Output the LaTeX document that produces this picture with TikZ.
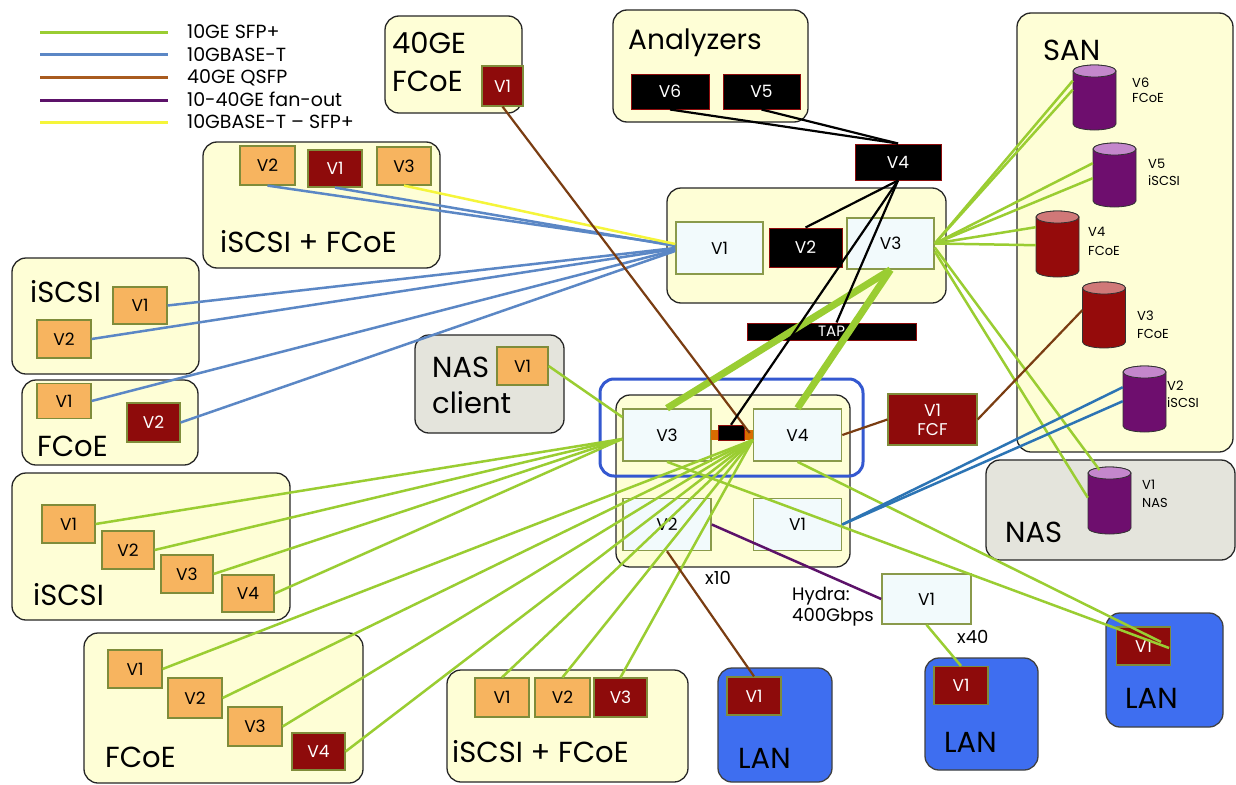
\documentclass[tikz,border=0pt]{standalone}
\usepackage{fontspec}
\setmainfont{Poppins}
\usetikzlibrary{calc}
\definecolor{cream}{HTML}{FEFED6}
\definecolor{greyf}{HTML}{E4E4DC}
\definecolor{lanblue}{HTML}{3E6EF0}
\definecolor{orangef}{HTML}{F7B45F}
\definecolor{darkred}{HTML}{8E0B0B}
\definecolor{boxolive}{HTML}{7F8C3A}
\definecolor{ltfill}{HTML}{F2FAFC}
\definecolor{ltedge}{HTML}{8A9A4B}
\definecolor{grn}{HTML}{9ACD32}
\definecolor{blu}{HTML}{5B87C5}
\definecolor{blutwo}{HTML}{2C74B4}
\definecolor{brn}{HTML}{7A3D12}
\definecolor{brnleg}{HTML}{A95B1F}
\definecolor{pur}{HTML}{5C1269}
\definecolor{yel}{HTML}{F5F53A}
\definecolor{cylpur}{HTML}{6E0E6E}
\definecolor{cylpurtop}{HTML}{C487CC}
\definecolor{cylred}{HTML}{950B0B}
\definecolor{cylredtop}{HTML}{D07878}
\definecolor{bluering}{HTML}{3458D0}
\newcommand\bigf{\fontsize{29}{31}\selectfont}
\newcommand\vf{\fontsize{17}{19}\selectfont}
\newcommand\smf{\fontsize{13}{15}\selectfont}
\newcommand\legf{\fontsize{19}{21}\selectfont}
\newcommand\midf{\fontsize{18}{20}\selectfont}
% name, cx, ytop, ybot, rx, body, top
\newcommand\mycyl[7]{%
  \path[draw=black!80, fill=#6, line width=0.8pt] (#2-#5,#3+6) -- (#2-#5,#4-6) arc (180:0:#5 and 6) -- (#2+#5,#3+6) arc (0:-180:#5 and 6) -- cycle;
  \path[draw=black!80, fill=#7, line width=0.8pt] (#2,#3+6) ellipse (#5 and 6);
  \node[inner sep=0, minimum width=2*#5, minimum height=#4-#3, anchor=north] (#1) at (#2,#3) {};
}
\begin{document}
\begin{tikzpicture}[x=1pt,y=-1pt,
  grp/.style={draw=black!85, line width=1.3pt, fill=cream, rounded corners=14pt, inner sep=0},
  greygrp/.style={grp, fill=greyf},
  langrp/.style={grp, fill=lanblue, draw=black!75},
  ring/.style={draw=bluering, line width=3pt, rounded corners=14pt, inner sep=0},
  orbox/.style={draw=boxolive, line width=1.2pt, fill=orangef, font=\vf, inner sep=0, minimum width=54, minimum height=38},
  redbox/.style={orbox, fill=darkred, text=white},
  blkbox/.style={draw=darkred, line width=1pt, fill=black, text=white, font=\vf, inner sep=0},
  ltbox/.style={draw=ltedge, line width=1.6pt, fill=ltfill, font=\vf, inner sep=0, minimum width=88, minimum height=52},
  big/.style={font=\bigf, inner sep=0, anchor=base west},
  lbl/.style={font=\smf, inner sep=0, anchor=base west},
  legtxt/.style={font=\legf, inner sep=0, anchor=base west},
  mid/.style={font=\midf, inner sep=0, anchor=base west},
  leg/.style={line width=3pt},
  g/.style={grn, line width=2.5pt},
  gthick/.style={grn, line width=7pt},
  bl/.style={blu, line width=2.5pt},
  bltwo/.style={blutwo, line width=2.5pt},
  br/.style={brn, line width=2.2pt},
  pu/.style={pur, line width=2.5pt},
  ye/.style={yel, line width=2.5pt},
  bk/.style={black, line width=2.2pt}
]
\useasboundingbox (0,0) rectangle (1236,784);
\fill[white] (0,0) rectangle (1236,784);

% ---------- legend ----------
\coordinate (la1) at (40,33);  \coordinate (lb1) at (168,33);
\coordinate (la2) at (40,55);  \coordinate (lb2) at (168,55);
\coordinate (la3) at (40,77);  \coordinate (lb3) at (168,77);
\coordinate (la4) at (40,100); \coordinate (lb4) at (168,100);
\coordinate (la5) at (40,122); \coordinate (lb5) at (168,122);
\draw[leg, grn] (la1) -- (lb1);
\draw[leg, blu] (la2) -- (lb2);
\draw[leg, brnleg] (la3) -- (lb3);
\draw[leg, pur] (la4) -- (lb4);
\draw[leg, yel] (la5) -- (lb5);
\node[legtxt] (t1) at (187,39) {10GE SFP+};
\node[legtxt] (t2) at (187,61) {10GBASE-T};
\node[legtxt] (t3) at (187,83) {40GE QSFP};
\node[legtxt] (t4) at (187,106) {10-40GE fan-out};
\node[legtxt] (t5) at (187,128) {10GBASE-T – SFP+};

% ---------- containers ----------
\node[grp, minimum width=137, minimum height=97] (g40) at (453.5,64.5) {};
\node[grp, minimum width=195, minimum height=112] (gAn) at (710.5,66) {};
\node[grp, minimum width=279, minimum height=115] (gTop) at (806.5,245.5) {};
\node[grp, minimum width=234, minimum height=172] (gLow) at (733,481) {};
\node[grp, minimum width=216, minimum height=439] (gSAN) at (1125,232.5) {};
\node[greygrp, minimum width=249, minimum height=100] (gNAS) at (1110.5,510) {};
\node[grp, minimum width=237, minimum height=126] (gISFa) at (321.5,205) {};
\node[grp, minimum width=187, minimum height=116] (gISa) at (105.5,316) {};
\node[grp, minimum width=176, minimum height=85] (gFCa) at (110,422.5) {};
\node[grp, minimum width=278, minimum height=147] (gISb) at (151,546.5) {};
\node[grp, minimum width=279, minimum height=150] (gFCb) at (223.5,708) {};
\node[grp, minimum width=241, minimum height=112] (gISFb) at (567.5,726) {};
\node[greygrp, minimum width=149, minimum height=98] (gNC) at (489.5,384) {};
\node[langrp, minimum width=114, minimum height=114] (gLANa) at (775,725) {};
\node[langrp, minimum width=113, minimum height=112] (gLANb) at (981.5,714) {};
\node[langrp, minimum width=117, minimum height=114] (gLANc) at (1164.5,670) {};

% ---------- container titles ----------
\node[big] (x40t) at (392,53) {40GE};
\node[big] (x40u) at (392,92) {FCoE};
\node[big, font=\fontsize{28}{30}\selectfont] (anT) at (628,49) {Analyzers};
\node[big] (sanT) at (1043,60) {SAN};
\node[big] (nasT) at (1005,542) {NAS};
\node[big] (ncT) at (432,377) {NAS};
\node[big] (ncU) at (432,413) {client};
\node[big] (isaT) at (30,302) {iSCSI};
\node[big] (fcaT) at (37,456) {FCoE};
\node[big] (isbT) at (33,605) {iSCSI};
\node[big] (fcbT) at (105,767) {FCoE};
\node[big] (isfaT) at (220,252) {iSCSI + FCoE};
\node[big] (isfbT) at (452,762) {iSCSI + FCoE};
\node[big] (lanaT) at (738,768) {LAN};
\node[big] (lanbT) at (944,752) {LAN};
\node[big] (lancT) at (1125,708) {LAN};

% ---------- inner boxes ----------
\node[redbox, minimum width=41, minimum height=40] (fV1) at (502.5,86) {V1};
\node[blkbox, minimum width=78, minimum height=35] (aV6) at (670,91.5) {V6};
\node[blkbox, minimum width=77, minimum height=35] (aV5) at (761.5,91.5) {V5};
\node[blkbox, minimum width=86, minimum height=36] (aV4) at (898,162) {V4};
\node[ltbox, minimum width=87, minimum height=52] (tV1) at (719.5,248) {V1};
\node[blkbox, minimum width=73, minimum height=39] (tV2) at (805.5,247.5) {V2};
\node[ltbox, minimum width=87, minimum height=51] (tV3) at (890.5,243.5) {V3};
\node[blkbox, minimum width=169, minimum height=17, font=\fontsize{15}{16}\selectfont] (tap) at (831.5,331.5) {TAP};
\node[ring, minimum width=263, minimum height=97] (ring) at (731.5,427.5) {};
\node[ltbox] (lV3) at (667,435) {V3};
\node[ltbox] (lV4) at (797.5,435) {V4};
\node[ltbox] (lV2) at (667,524.5) {V2};
\node[ltbox] (lV1) at (797.5,524.5) {V1};
\node[fill=orange!85!black, minimum width=42, minimum height=10, inner sep=0] (obar) at (732,434.5) {};
\node[fill=black, draw=darkred, minimum width=26, minimum height=15, inner sep=0] (jbox) at (731,432.5) {};
\node[redbox, minimum width=89, minimum height=51, align=center, font=\fontsize{17}{19}\selectfont] (fcf) at (932.5,419.5) {V1\\FCF};
\node[ltbox, minimum width=89, minimum height=50] (hV1) at (926.5,599) {V1};
\node[redbox] (LaV1) at (754,696) {V1};
\node[redbox] (LbV1) at (961,685.5) {V1};
\node[redbox] (LcV1) at (1143.5,646) {V1};
\node[orbox, minimum width=55, minimum height=39] (iaV2) at (267.5,165.5) {V2};
\node[redbox, minimum height=37] (iaV1) at (335,168.5) {V1};
\node[orbox] (iaV3) at (404,166) {V3};
\node[orbox, minimum height=37] (sV1) at (140,305.5) {V1};
\node[orbox] (sV2) at (64,339) {V2};
\node[orbox, minimum height=35] (fcV1) at (64,401) {V1};
\node[redbox, minimum width=53, minimum height=39] (fcV2) at (153.5,422.5) {V2};
\node[orbox, minimum width=53] (bV1) at (68.5,524) {V1};
\node[orbox, minimum width=52] (bV2) at (128,550) {V2};
\node[orbox, minimum width=52] (bV3) at (187,574) {V3};
\node[orbox, minimum width=52, minimum height=37] (bV4) at (248,593.5) {V4};
\node[orbox] (dV1) at (135,669) {V1};
\node[orbox, minimum height=40] (dV2) at (195,698) {V2};
\node[orbox, minimum height=39] (dV3) at (255,726.5) {V3};
\node[redbox, minimum width=53, minimum height=37] (dV4) at (318.5,751.5) {V4};
\node[orbox, minimum height=39] (eV1) at (502,697.5) {V1};
\node[orbox, minimum width=55, minimum height=39] (eV2) at (562.5,697.5) {V2};
\node[redbox, minimum width=53, minimum height=39] (eV3) at (620.5,697.5) {V3};
\node[orbox, minimum width=51, minimum height=38] (nV1) at (522.5,366) {V1};

% ---------- cylinders ----------
\mycyl{cyV6}{1094.5}{65}{130}{21.5}{cylpur}{cylpurtop}
\mycyl{cyV5}{1114.5}{143}{207}{21.5}{cylpur}{cylpurtop}
\mycyl{cyV4}{1057.5}{211}{277}{21.5}{cylred}{cylredtop}
\mycyl{cyV3}{1104}{282}{348}{21.5}{cylred}{cylredtop}
\mycyl{cyV2}{1144.5}{366}{432}{21.5}{cylpur}{cylpurtop}
\mycyl{cyN1}{1109.5}{467}{534}{21.5}{cylpur}{cylpurtop}
\node[lbl] (cyV6a) at (1132,87) {V6};
\node[lbl] (cyV6b) at (1132,102) {FCoE};
\node[lbl] (cyV5a) at (1148,168) {V5};
\node[lbl] (cyV5b) at (1148,185) {iSCSI};
\node[lbl] (cyV4a) at (1088,236) {V4};
\node[lbl] (cyV4b) at (1088,255) {FCoE};
\node[lbl] (cyV3a) at (1137,320) {V3};
\node[lbl] (cyV3b) at (1137,338) {FCoE};
\node[lbl] (cyV2a) at (1167,390) {V2};
\node[lbl] (cyV2b) at (1167,407) {iSCSI};
\node[lbl] (cyN1a) at (1142,489) {V1};
\node[lbl] (cyN1b) at (1142,507) {NAS};

% ---------- other labels ----------
\node[mid] (hyA) at (792,600) {Hydra:};
\node[mid] (hyB) at (792,621) {400Gbps};
\node[mid] (x40) at (957,643) {x40};
\node[mid] (x10) at (705,584) {x10};

% ---------- connectors ----------
% blue (10GBASE-T) to top V1
\draw[bl] (iaV2.south) -- ($(tV1.west)+(0,-3)$);
\draw[bl] (iaV1.south) -- ($(tV1.west)+(0,-2)$);
\draw[ye] (iaV3.south) -- ($(tV1.west)+(0,-4)$);
\draw[bl] (sV1.east) -- (tV1.west);
\draw[bl] (sV2.east) -- ($(tV1.west)+(0,1)$);
\draw[bl] (fcV1.east) -- ($(tV1.west)+(0,2)$);
\draw[bl] (fcV2.east) -- ($(tV1.west)+(0,3)$);

% green fans from left groups
\coordinate (jn) at ($(lV4.west)+(0,5)$);
\coordinate (v3in) at ($(lV3.west)+(0,4)$);
\draw[g] (bV1.east) -- (v3in);
\draw[g] (bV2.east) -- (v3in);
\draw[g] (bV3.east) -- (v3in);
\draw[g] (bV4.east) -- (v3in);
\draw[g] (dV1.east) -- (jn);
\draw[g] (dV2.east) -- (jn);
\draw[g] (dV3.east) -- (jn);
\draw[g] (dV4.east) -- (jn);
\draw[g] (eV1.north) -- (jn);
\draw[g] (eV2.north) -- (jn);
\draw[g] (eV3.north) -- (jn);
\draw[g] (nV1.east) -- ($(lV3.west)+(0,-18)$);

% top V3 to SAN / NAS
\draw[g] (tV3.east) -- ($(cyV6.west)+(0,-17)$);
\draw[g] (tV3.east) -- ($(cyV6.west)+(0,-8)$);
\draw[g] (tV3.east) -- ($(cyV5.west)+(0,-12)$);
\draw[g] (tV3.east) -- ($(cyV5.west)+(0,3)$);
\draw[g] (tV3.east) -- ($(cyV4.west)+(0,-17)$);
\draw[g] (tV3.east) -- ($(cyV4.west)+(0,1)$);
\draw[g] ($(tV3.east)+(0,4)$) -- ($(cyN1.north)+(-10,3)$);
\draw[g] ($(tV3.east)+(0,8)$) -- ($(cyN1.west)+(0,-3)$);

% thick green through TAP
\draw[gthick] (tV3.south) -- (lV3.north);
\draw[gthick] (tV3.south) -- (lV4.north);

% lower switch to LAN 3
\coordinate (lcin) at ($(LcV1.east)+(-2,2)$);
\draw[g] (lV3.south) -- (lcin);
\draw[g] (lV4.south) -- ($(lcin)+(-8,-6)$);

% Hydra
\draw[g] (hV1.south) -- (LbV1.north);
\draw[pu] (lV2.east) -- (hV1.west);

% blue to SAN V2
\draw[bltwo] (lV1.east) -- ($(cyV2.west)+(0,-12)$);
\draw[bltwo] (lV1.east) -- ($(cyV2.west)+(0,2)$);

% brown
\draw[br] (fV1.south) -- ($(lV4.west)+(-3,-2)$);
\draw[br] (lV4.east) -- (fcf.west);
\draw[br] (fcf.east) -- ($(cyV3.west)+(0,-5)$);
\draw[br] (lV2.south) -- (LaV1.north);

% black (analyzer taps)
\draw[bk] (aV6.south) -- (aV4.north);
\draw[bk] (aV5.south) -- (aV4.north);
\draw[bk] (aV4.south) -- (tV2.north);
\draw[bk] (aV4.south) -- ($(tap.north)+(5,0)$);
\draw[bk] (aV4.south) -- (jbox.north);
\end{tikzpicture}
\end{document}
